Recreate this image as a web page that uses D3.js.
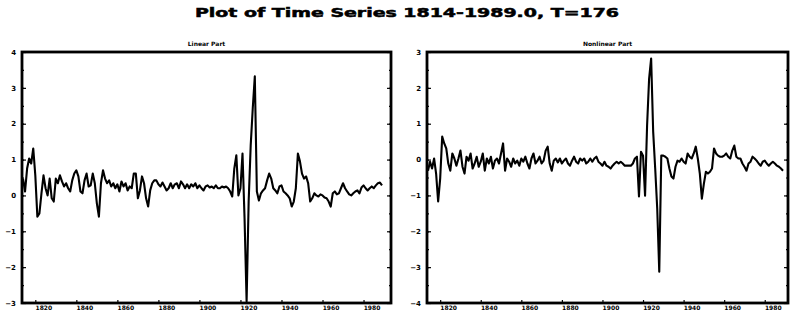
<!DOCTYPE html>
<html lang="en">
<head>
    <meta charset="UTF-8">
    <title>Plot of Time Series</title>
    <script src="https://cdn.jsdelivr.net/npm/d3@7"></script>
    <style>
        body { margin: 0; background: #fff; }
        text { font-family: "DejaVu Sans", sans-serif; font-weight: bold; fill: #000; }
    </style>
</head>
<body>
<div id="chart"></div>

<script>
    // years 1814..1989, T=176
    var firstYear = 1814
    var lastYear = 1989
    var xTickYears = [1820, 1840, 1860, 1880, 1900, 1920, 1940, 1960, 1980]

    var linearTicks = [-3, -2, -1, 0, 1, 2, 3, 4]
    var nonlinearTicks = [-4, -3, -2, -1, 0, 1, 2, 3]

    var linearPart = [
        0.47, 0.11, 0.75, 1.03, 0.89, 1.31, 0.56, -0.59, -0.50, 0.06,
        0.56, 0.20, 0.00, 0.47, -0.08, -0.17, 0.47, 0.34, 0.56, 0.39,
        0.25, 0.34, 0.20, 0.11, 0.42, 0.61, 0.70, 0.53, 0.11, 0.06,
        0.42, 0.61, 0.25, 0.28, 0.61, 0.34, -0.22, -0.59, 0.34, 0.70,
        0.47, 0.34, 0.42, 0.25, 0.34, 0.20, 0.31, 0.11, 0.39, 0.25,
        0.34, 0.14, 0.25, 0.20, 0.61, 0.61, -0.08, 0.14, 0.53, 0.34,
        -0.08, -0.31, 0.14, 0.34, 0.42, 0.42, 0.31, 0.25, 0.36, 0.25,
        0.14, 0.20, 0.34, 0.20, 0.31, 0.34, 0.20, 0.39, 0.31, 0.20,
        0.31, 0.20, 0.31, 0.25, 0.34, 0.20, 0.28, 0.20, 0.14, 0.25,
        0.28, 0.22, 0.25, 0.20, 0.28, 0.20, 0.20, 0.25, 0.22, 0.25,
        0.20, 0.11, -0.03, 0.75, 1.12, 0.00, 0.20, 1.17, -0.64, -2.96,
        -0.17, 1.40, 2.43, 3.32, 0.11, -0.14, 0.06, 0.14, 0.20, 0.42,
        0.61, 0.47, 0.20, 0.14, 0.06, 0.25, 0.28, 0.11, 0.06, 0.00,
        -0.08, -0.31, -0.17, 0.20, 1.17, 0.95, 0.61, 0.47, 0.53, 0.34,
        -0.17, -0.08, 0.06, 0.00, -0.03, 0.03, 0.00, -0.06, -0.08, -0.17,
        -0.31, 0.06, 0.11, 0.03, 0.06, 0.20, 0.34, 0.20, 0.11, 0.03,
        0.00, 0.06, 0.11, 0.14, 0.06, 0.22, 0.28, 0.20, 0.14, 0.20,
        0.25, 0.20, 0.28, 0.34, 0.36, 0.28
    ]

    var nonlinearPart = [
        -0.31, -0.06, -0.25, 0.03, -0.39, -1.17, -0.53, 0.64, 0.45, 0.31,
        -0.11, -0.31, 0.17, 0.03, -0.17, 0.03, 0.25, -0.20, -0.39, 0.08,
        -0.03, 0.17, -0.25, -0.11, 0.08, -0.20, -0.06, 0.17, -0.31, 0.03,
        -0.11, 0.08, -0.25, -0.03, 0.03, -0.11, 0.17, 0.45, -0.31, 0.03,
        -0.06, -0.20, 0.03, -0.11, -0.03, -0.17, 0.03, -0.06, 0.08, -0.11,
        -0.25, 0.03, 0.17, -0.11, -0.03, 0.08, -0.11, -0.03, 0.25, 0.36,
        -0.11, -0.31, -0.03, 0.03, -0.08, 0.03, -0.11, -0.03, 0.03, -0.11,
        -0.17, -0.03, 0.08, -0.06, -0.11, 0.03, -0.03, 0.03, -0.11, -0.06,
        0.03, -0.06, 0.03, 0.08, -0.06, -0.11, -0.17, -0.06, -0.17, -0.20,
        -0.25, -0.17, -0.11, -0.06, -0.11, -0.06, -0.11, -0.17, -0.17, -0.17,
        -0.17, -0.11, 0.03, 0.08, -1.03, 0.22, 0.11, -1.01, 0.95, 2.26,
        2.82, 0.78, -0.25, -1.37, -3.13, 0.11, 0.11, 0.08, 0.03, -0.25,
        -0.47, -0.53, -0.20, -0.03, -0.06, 0.03, -0.06, -0.11, 0.17, 0.08,
        0.03, 0.17, 0.36, 0.03, -0.39, -1.09, -0.67, -0.34, -0.39, -0.34,
        -0.25, 0.31, 0.17, 0.11, 0.08, 0.08, 0.11, 0.17, 0.08, 0.03,
        0.25, 0.39, 0.08, 0.03, 0.03, -0.11, -0.20, -0.31, -0.11, -0.06,
        0.08, 0.03, -0.03, -0.11, -0.17, -0.06, -0.03, -0.11, -0.17, -0.11,
        -0.06, -0.11, -0.17, -0.20, -0.25, -0.31
    ]

    var years = d3.range(firstYear, lastYear + 1)

    var svg = d3.select("#chart")
        .append("svg")
        .attr("width", 791)
        .attr("height", 313)

    svg.append("text")
        .attr("x", 407)
        .attr("y", 17)
        .attr("text-anchor", "middle")
        .attr("font-size", 12)
        .attr("textLength", 424)
        .attr("lengthAdjust", "spacingAndGlyphs")
        .attr("stroke", "#000")
        .attr("stroke-width", 0.5)
        .text("Plot of Time Series 1814-1989.0, T=176")

    panel({left: 22, right: 391, dataLeft: 23, dataRight: 382},
        "Linear Part", linearPart, [-3, 4], linearTicks)
    panel({left: 427, right: 788, dataLeft: 428, dataRight: 783},
        "Nonlinear Part", nonlinearPart, [-4, 3], nonlinearTicks)

    function panel(box, title, values, yDomain, yTicks) {
        var y0 = 52
        var y1 = 303

        var x = d3.scaleLinear().domain([firstYear, lastYear]).range([box.dataLeft, box.dataRight])
        var y = d3.scaleLinear().domain(yDomain).range([y1, y0])

        var g = svg.append("g")

        g.append("text")
            .attr("x", (box.left + box.right) / 2)
            .attr("y", 46)
            .attr("text-anchor", "middle")
            .attr("font-size", 6)
            .text(title)

        // minor ticks between the labelled ones
        var minor = d3.range(yDomain[0], yDomain[1], 0.5)

        g.append("g")
            .attr("transform", "translate(" + box.left + ",0)")
            .call(d3.axisLeft(y).tickValues(minor).tickSize(-2).tickFormat(""))
        g.append("g")
            .attr("transform", "translate(" + box.right + ",0)")
            .call(d3.axisRight(y).tickValues(minor).tickSize(-2).tickFormat(""))

        var yAxis = g.append("g")
            .attr("transform", "translate(" + box.left + ",0)")
            .call(d3.axisLeft(y).tickValues(yTicks).tickSize(-4).tickPadding(6).tickFormat(d3.format("d")))
        yAxis.selectAll("text").attr("font-size", 7)

        g.append("g")
            .attr("transform", "translate(" + box.right + ",0)")
            .call(d3.axisRight(y).tickValues(yTicks).tickSize(-4).tickFormat(""))

        var xAxis = g.append("g")
            .attr("transform", "translate(0," + y1 + ")")
            .call(d3.axisBottom(x).tickValues(xTickYears).tickSize(-3).tickPadding(3).tickFormat(d3.format("d")))
        xAxis.selectAll("text").attr("font-size", 6).attr("dx", 8)

        g.selectAll(".domain").remove()
        g.selectAll(".tick line").attr("stroke", "#000").attr("stroke-width", 1.2)
        g.selectAll(".tick text").attr("fill", "#000").attr("font-family", "DejaVu Sans").style("font-weight", "bold")

        var line = d3.line()
            .x(function (d, i) { return x(years[i]) })
            .y(function (d) { return y(d) })

        g.append("path")
            .datum(values)
            .attr("d", line)
            .attr("fill", "none")
            .attr("stroke", "#000")
            .attr("stroke-width", 2.1)
            .attr("stroke-linejoin", "round")

        g.append("rect")
            .attr("x", box.left)
            .attr("y", y0)
            .attr("width", box.right - box.left)
            .attr("height", y1 - y0)
            .attr("fill", "none")
            .attr("stroke", "#000")
            .attr("stroke-width", 2.8)
    }
</script>
</body>
</html>
